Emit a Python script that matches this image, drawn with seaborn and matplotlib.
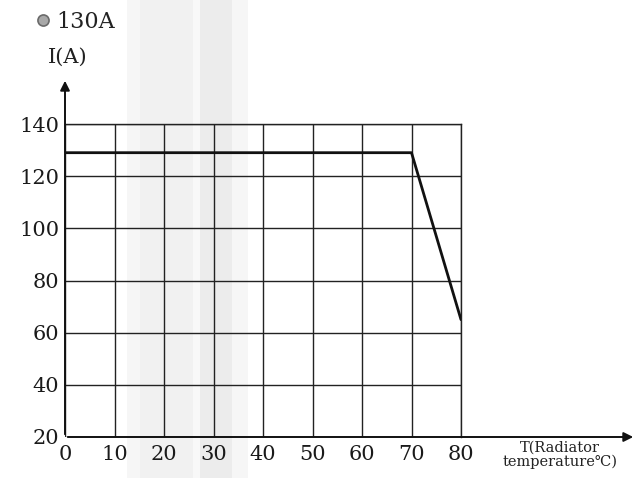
import matplotlib
matplotlib.use("Agg")
import matplotlib.pyplot as plt
import seaborn as sns
import pandas as pd
from matplotlib.patches import Rectangle, FancyArrowPatch
from matplotlib.lines import Line2D

# Data
temps = [0, 70, 80]
current = [129, 129, 65]
x_ticks = [0, 10, 20, 30, 40, 50, 60, 70, 80]
y_ticks = [20, 40, 60, 80, 100, 120, 140]
title_text = "130A"
y_label = "I(A)"
x_label = "T(Radiator\ntemperature\u2103)"

sns.set_theme(style="white")
plt.rcParams['font.family'] = ['DejaVu Serif', 'DejaVu Sans']

W, H = 641, 478
fig = plt.figure(figsize=(W / 100, H / 100), dpi=100)
fig.patch.set_facecolor("white")

# faint scan shading band
for x0, x1, c in [(127, 140, "#f6f6f6"), (140, 193, "#f1f1f1"), (193, 200, "#f8f8f8"),
                  (200, 232, "#ececec"), (232, 248, "#f6f6f6")]:
    fig.patches.append(Rectangle((x0 / W, 0), (x1 - x0) / W, 1, transform=fig.transFigure,
                                 color=c, zorder=-10, lw=0))

left, right, top, bottom = 65, 461, 124, 437
ax = fig.add_axes([left / W, 1 - bottom / H, (right - left) / W, (bottom - top) / H])
ax.set_facecolor("none")

df = pd.DataFrame({"T": temps, "I": current})
sns.lineplot(data=df, x="T", y="I", ax=ax, color="#111111", linewidth=2.0, zorder=5)

ax.set_xlim(0, 80)
ax.set_ylim(20, 140)
ax.set_xticks(x_ticks)
ax.set_yticks(y_ticks)
ax.set_xticklabels([str(v) for v in x_ticks], fontsize=15)
ax.set_yticklabels([str(v) for v in y_ticks], fontsize=15)
ax.tick_params(axis="x", length=0, pad=6, colors="#1a1a1a")
ax.tick_params(axis="y", length=0, pad=4, colors="#1a1a1a")
ax.set_xlabel("")
ax.set_ylabel("")

ax.grid(True, color="#222222", linewidth=1.0)
for s in ["top", "right"]:
    ax.spines[s].set_visible(True)
    ax.spines[s].set_color("#222222")
    ax.spines[s].set_linewidth(1.0)
for s in ["left", "bottom"]:
    ax.spines[s].set_visible(False)


def px(x, y):
    return (x / W, 1 - y / H)


# axis arrows
fig.add_artist(FancyArrowPatch(px(65, 437), px(636, 437), transform=fig.transFigure,
                               arrowstyle="-|>", mutation_scale=14, color="#111111", lw=1.4))
fig.add_artist(FancyArrowPatch(px(65, 437), px(65, 78), transform=fig.transFigure,
                               arrowstyle="-|>", mutation_scale=14, color="#111111", lw=1.4))

# bullet and texts
fig.add_artist(Line2D([43 / W], [1 - 20 / H], transform=fig.transFigure, marker="o",
                      markersize=8, markerfacecolor="#a8a8a8", markeredgecolor="#6a6a6a",
                      markeredgewidth=1.2, linestyle="none"))
fig.text(*px(56, 22), title_text, fontsize=16, ha="left", va="center", color="#222222")
fig.text(*px(68, 57), y_label, fontsize=15, ha="center", va="center", color="#222222")
fig.text(*px(560, 455), x_label, fontsize=10.5, ha="center", va="center", color="#222222",
         linespacing=0.95)

fig.savefig("out.png", dpi=100)
